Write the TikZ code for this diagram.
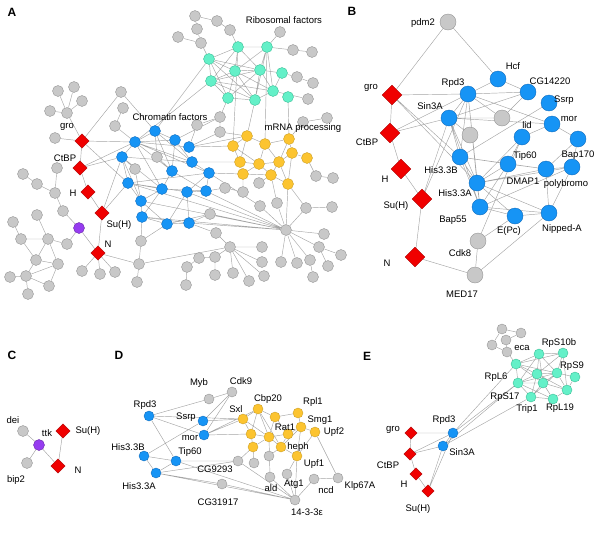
\documentclass[tikz,border=0pt]{standalone}
\usepackage{fontspec}
\setmainfont{Liberation Sans}
\usetikzlibrary{shapes.geometric,backgrounds}
\definecolor{gfill}{RGB}{200,200,200}
\definecolor{gline}{RGB}{150,150,150}
\definecolor{bfill}{RGB}{22,148,245}
\definecolor{bline}{RGB}{20,110,190}
\definecolor{yfill}{RGB}{252,196,48}
\definecolor{yline}{RGB}{205,160,40}
\definecolor{tfill}{RGB}{100,240,200}
\definecolor{tline}{RGB}{60,190,150}
\definecolor{rfill}{RGB}{240,0,0}
\definecolor{rline}{RGB}{170,0,0}
\definecolor{pfill}{RGB}{150,60,240}
\definecolor{lnkc}{RGB}{165,165,165}

\begin{document}
\begin{tikzpicture}[x=1pt,y=-1pt,
  nd/.style={circle,inner sep=0pt,minimum size=11pt,line width=0.4pt},
  gry/.style={nd,draw=gline,fill=gfill},
  blu/.style={nd,draw=bline,fill=bfill},
  ylw/.style={nd,draw=yline,fill=yfill},
  tea/.style={nd,draw=tline,fill=tfill},
  prp/.style={nd,draw=pfill!70!black,fill=pfill},
  dia/.style={diamond,inner sep=0pt,minimum size=14.5pt,draw=rline,fill=rfill,line width=0.4pt},
  lnk/.style={draw=lnkc,line width=0.45pt},
  lbl/.style={inner sep=0pt,font=\fontsize{9.5}{11}\selectfont},
  pnl/.style={inner sep=0pt,font=\fontsize{12}{14}\selectfont\bfseries}
]
\useasboundingbox (0,0) rectangle (600,536);

% panel letters
\node[pnl] (pA) at (12,12) {A};
\node[pnl] (pB) at (352,11) {B};
\node[pnl] (pC) at (12,355) {C};
\node[pnl] (pD) at (119,355) {D};
\node[pnl] (pE) at (367,356) {E};

% ---------------- A ----------------
\node[gry] (ag1) at (58,91) {};
\node[gry] (ag2) at (74,87) {};
\node[gry] (ag3) at (82,101) {};
\node[gry] (ag4) at (50,111) {};
\node[gry] (ag5) at (67,113) {};
\node[gry] (ag6) at (55,138) {};
\node[gry] (ag7) at (121,92) {};
\node[gry] (ag8) at (123,108) {};
\node[gry] (ag9) at (115,126) {};
\node[dia] (agro) at (82,141) {};
\node[dia] (actbp) at (80,168) {};
\node[dia] (ah) at (88,192) {};
\node[dia] (asuh) at (102,213) {};
\node[dia] (an) at (98,253) {};
\node[prp] (attk) at (79,228) {};
\node[gry] (ag10) at (57,168) {};
\node[gry] (ag11) at (23,174) {};
\node[gry] (ag12) at (37,184) {};
\node[gry] (ag13) at (55,193) {};
\node[gry] (ag14) at (63,211) {};
\node[gry] (ag15) at (37,215) {};
\node[gry] (ag16) at (13,222) {};
\node[gry] (ag17) at (21,239) {};
\node[gry] (ag18) at (48,239) {};
\node[gry] (ag19) at (67,244) {};
\node[gry] (ag20) at (36,260) {};
\node[gry] (ag21) at (58,264) {};
\node[gry] (ag22) at (10,277) {};
\node[gry] (ag23) at (26,276) {};
\node[gry] (ag24) at (49,286) {};
\node[gry] (ag25) at (28,294) {};
\node[gry] (ag26) at (82,271) {};
\node[gry] (ag27) at (100,274) {};
\node[gry] (ag28) at (115,272) {};
\node[gry] (ag29) at (141,241) {};
\node[gry] (ag30) at (139,264) {};
\node[gry] (ag31) at (137,282) {};
% chromatin
\node[blu] (ab1) at (155,131) {};
\node[blu] (ab2) at (135,142) {};
\node[blu] (ab3) at (175,140) {};
\node[blu] (ab4) at (189,147) {};
\node[blu] (ab5) at (122,157) {};
\node[blu] (ab6) at (172,171) {};
\node[blu] (ab7) at (128,183) {};
\node[blu] (ab8) at (162,189) {};
\node[blu] (ab9) at (141,201) {};
\node[blu] (ab10) at (142,217) {};
\node[blu] (ab11) at (167,224) {};
\node[blu] (ab12) at (192,162) {};
\node[blu] (ab13) at (209,173) {};
\node[blu] (ab14) at (187,192) {};
\node[blu] (ab15) at (206,191) {};
\node[blu] (ab16) at (189,223) {};
\node[gry] (ag32) at (135,169) {};
\node[gry] (ag33) at (157,157) {};
\node[gry] (ag34) at (225,188) {};
\node[gry] (ag35) at (243,192) {};
\node[gry] (ag36) at (259,183) {};
\node[gry] (ag37) at (210,214) {};
\node[gry] (ag38) at (216,233) {};
\node[gry] (ag39) at (220,117) {};
\node[gry] (ag40) at (197,125) {};
\node[gry] (ag41) at (220,132) {};
% lower right
\node[gry] (ag42) at (316,176) {};
\node[gry] (ag43) at (333,178) {};
\node[gry] (ag44) at (260,206) {};
\node[gry] (ag45) at (277,203) {};
\node[gry] (ag46) at (306,208) {};
\node[gry] (ag47) at (332,207) {};
\node[gry] (ah1) at (286,230) {};
\node[gry] (ag48) at (324,234) {};
\node[gry] (ag49) at (319,247) {};
\node[gry] (ag50) at (341,255) {};
\node[gry] (ag51) at (328,266) {};
\node[gry] (ag52) at (281,262) {};
\node[gry] (ag53) at (297,263) {};
\node[gry] (ag54) at (310,260) {};
\node[gry] (ag55) at (313,277) {};
\node[gry] (ah2) at (230,247) {};
\node[gry] (ag56) at (262,247) {};
\node[gry] (ag57) at (262,262) {};
\node[gry] (ag58) at (264,276) {};
\node[gry] (ag59) at (249,281) {};
\node[gry] (ag60) at (233,273) {};
\node[gry] (ag61) at (215,257) {};
\node[gry] (ag62) at (215,275) {};
\node[gry] (ag63) at (199,258) {};
\node[gry] (ag64) at (187,267) {};
\node[gry] (ag65) at (186,285) {};
% top
\node[gry] (ag66) at (195,16) {};
\node[gry] (ag67) at (217,21) {};
\node[gry] (ag68) at (197,29) {};
\node[gry] (ag69) at (230,30) {};
\node[gry] (ag70) at (201,43) {};
\node[gry] (ag71) at (178,37) {};
\node[gry] (ag72) at (280,32) {};
\node[gry] (ag73) at (293,50) {};
\node[gry] (ag74) at (312,52) {};
\node[gry] (ag75) at (297,77) {};
\node[gry] (ag76) at (313,83) {};
\node[gry] (ag77) at (308,99) {};
\node[gry] (ag78) at (303,122) {};
\node[gry] (ag79) at (327,118) {};
% ribosomal
\node[tea] (at1) at (238,47) {};
\node[tea] (at2) at (267,47) {};
\node[tea] (at3) at (209,59) {};
\node[tea] (at4) at (235,71) {};
\node[tea] (at5) at (260,70) {};
\node[tea] (at6) at (282,73) {};
\node[tea] (at7) at (211,81) {};
\node[tea] (at8) at (273,91) {};
\node[tea] (at9) at (228,98) {};
\node[tea] (at10) at (255,100) {};
\node[tea] (at11) at (288,97) {};
% mRNA processing
\node[ylw] (ay1) at (247,136) {};
\node[ylw] (ay2) at (233,146) {};
\node[ylw] (ay3) at (265,144) {};
\node[ylw] (ay4) at (289,139) {};
\node[ylw] (ay5) at (240,162) {};
\node[ylw] (ay6) at (259,164) {};
\node[ylw] (ay7) at (279,162) {};
\node[ylw] (ay8) at (292,153) {};
\node[ylw] (ay9) at (307,158) {};
\node[ylw] (ay10) at (243,174) {};
\node[ylw] (ay11) at (271,175) {};
\node[ylw] (ay12) at (288,184) {};

\node[lbl] (lrib) at (284,20) {Ribosomal factors};
\node[lbl] (lchr) at (170,117) {Chromatin factors};
\node[lbl] (lmrna) at (303,128) {mRNA processing};
\node[lbl] (lagro) at (67,127) {gro};
\node[lbl] (lactbp) at (65,158) {CtBP};
\node[lbl] (lah) at (73,193) {H};
\node[lbl] (lasuh) at (119,225) {Su(H)};
\node[lbl] (lan) at (108,244) {N};

\begin{pgfonlayer}{background}
\draw[lnk] (ag5)--(ag1) (ag5)--(ag2) (ag5)--(ag3) (ag5)--(ag4) (ag5)--(agro)
  (ag6)--(agro) (ag7)--(agro) (ag7)--(ab1) (ag8)--(ag9) (ag9)--(ab2)
  (agro)--(ab2) (agro)--(actbp) (agro)--(ab7) (actbp)--(ab5) (actbp)--(ah)
  (actbp)--(ab2) (ah)--(asuh) (asuh)--(an) (asuh)--(ab5) (asuh)--(ab7);
\draw[lnk] (ag11)--(ag12) (ag12)--(ag13) (ag10)--(ag13) (ag13)--(ag14)
  (ag14)--(attk) (attk)--(ag19) (attk)--(an) (ag15)--(ag18) (ag16)--(ag17)
  (ag17)--(ag20) (ag17)--(ag18) (ag18)--(ag19) (ag18)--(ag20) (ag18)--(ag21)
  (ag20)--(ag21) (ag20)--(ag23) (ag21)--(ag23) (ag22)--(ag23) (ag23)--(ag25)
  (ag23)--(ag24) (ag21)--(ag24);
\draw[lnk] (an)--(ag26) (an)--(ag27) (an)--(ag28) (an)--(ag30) (ag29)--(ag30)
  (ag30)--(ag31) (ag29)--(ab10) (ag29)--(ab11) (ag30)--(ah2);
\draw[lnk] (ab1)--(ab2) (ab1)--(ab3) (ab2)--(ab5) (ab2)--(ab3) (ab2)--(ab4)
  (ab2)--(ab6) (ab2)--(ab8) (ab2)--(ab12) (ab2)--(ab13) (ab1)--(ab12)
  (ab1)--(ab6) (ab3)--(ab12) (ab3)--(ab6) (ab5)--(ab7) (ab5)--(ab8)
  (ab5)--(ag32) (ab5)--(ab9) (ab5)--(ab12) (ab6)--(ab8) (ab6)--(ab15)
  (ab7)--(ab8) (ab7)--(ab9) (ab7)--(ab13) (ab7)--(ab14) (ab8)--(ab9)
  (ab8)--(ab15) (ab8)--(ab10) (ab9)--(ab10) (ab9)--(ab11) (ab10)--(ab11)
  (ab10)--(ab16) (ab11)--(ab16) (ab11)--(ab14) (ab12)--(ab13) (ab13)--(ab15)
  (ab14)--(ab15) (ab14)--(ab16) (ab13)--(ab14) (ag33)--(ab1) (ag33)--(ab6)
  (ab4)--(ay2) (ab4)--(ay1) (ab12)--(ay5) (ab13)--(ay10) (ab4)--(ag40)
  (ab3)--(ag39) (ab4)--(ag41) (ag32)--(ab9);
\draw[lnk] (ab14)--(ah1) (ab15)--(ah1) (ab16)--(ah1) (ab10)--(ah1) (ab9)--(ah1)
  (ab13)--(ag44) (ab15)--(ag34) (ag34)--(ag35) (ab16)--(ag38) (ag38)--(ah2)
  (ab11)--(ag37) (ag37)--(ah1) (ab16)--(ag37) (ab7)--(ah1);
\draw[lnk] (ay1)--(ay2) (ay1)--(ay3) (ay1)--(ay5) (ay2)--(ay5) (ay2)--(ay6)
  (ay3)--(ay6) (ay3)--(ay7) (ay3)--(ay4) (ay4)--(ay7) (ay4)--(ay8)
  (ay5)--(ay6) (ay6)--(ay7) (ay7)--(ay8) (ay8)--(ay9) (ay5)--(ay10)
  (ay6)--(ay10) (ay6)--(ay11) (ay7)--(ay11) (ay10)--(ay11) (ay11)--(ay12)
  (ay7)--(ay12) (ay8)--(ay12) (ay9)--(ag42) (ag42)--(ag43) (ay10)--(ag35)
  (ay11)--(ag36) (ay12)--(ah1) (ay11)--(ag45) (ay12)--(ag46);
\draw[lnk] (ag44)--(ah1) (ag45)--(ah1) (ag46)--(ah1) (ag46)--(ag47)
  (ah1)--(ag48) (ah1)--(ag49) (ag49)--(ag50) (ag49)--(ag51) (ah1)--(ag52)
  (ah1)--(ag53) (ah1)--(ag54) (ag54)--(ag55) (ah2)--(ag56) (ah2)--(ag57)
  (ah2)--(ag58) (ah2)--(ag59) (ah2)--(ag60) (ah2)--(ag61) (ag61)--(ag62)
  (ag61)--(ag63) (ag63)--(ag64) (ag64)--(ag65);
\draw[lnk] (ag66)--(ag67) (ag66)--(ag68) (ag68)--(ag70) (ag71)--(ag70)
  (ag67)--(ag69) (ag69)--(at1) (ag70)--(at3) (at3)--(ab1) (at7)--(ab2)
  (at2)--(ag72) (at2)--(ag73) (ag73)--(ag74) (at6)--(ag75) (ag75)--(ag76)
  (at8)--(ag77) (at2)--(ay3) (at11)--(ay4) (at10)--(ay1) (at9)--(ag39)
  (ag39)--(ag40) (ag39)--(ag41) (ag41)--(ay1) (ag78)--(ag79) (ay4)--(ag78)
  (at1)--(ay2);
\draw[lnk] (at1)--(at2) (at1)--(at3) (at1)--(at4) (at1)--(at5) (at2)--(at5)
  (at2)--(at4) (at3)--(at4) (at3)--(at7) (at3)--(at5) (at3)--(at9)
  (at4)--(at5) (at4)--(at7) (at4)--(at9) (at4)--(at10) (at4)--(at8)
  (at5)--(at7) (at5)--(at8) (at5)--(at10) (at5)--(at9) (at5)--(at6)
  (at7)--(at9) (at7)--(at10) (at7)--(at8) (at8)--(at10) (at9)--(at10)
  (at3)--(at10) (at1)--(at7) (at2)--(at8) (at6)--(at8) (at2)--(at10);
\end{pgfonlayer}

% ---------------- B ----------------
\begin{scope}[nd/.append style={minimum size=16pt},dia/.append style={minimum size=20pt}]
\node[gry] (bpdm2) at (448,22) {};
\node[dia] (bgro) at (392,95) {};
\node[dia] (bctbp) at (390,133) {};
\node[dia] (bh) at (401,169) {};
\node[dia] (bsuh) at (422,199) {};
\node[dia] (bn) at (415,257) {};
\node[blu] (bhcf) at (498,79) {};
\node[blu] (brpd3) at (468,94) {};
\node[blu] (bcg) at (528,92) {};
\node[blu] (bssrp) at (549,103) {};
\node[blu] (bsin) at (449,118) {};
\node[gry] (bx1) at (502,118) {};
\node[blu] (bmor) at (552,124) {};
\node[blu] (blid) at (522,137) {};
\node[gry] (bx2) at (470,135) {};
\node[blu] (bbap170) at (578,139) {};
\node[blu] (bhis3b) at (460,157) {};
\node[blu] (btip60) at (508,164) {};
\node[blu] (bdmap) at (546,169) {};
\node[blu] (bpoly) at (572,167) {};
\node[blu] (bhis3a) at (477,183) {};
\node[blu] (bbap55) at (480,207) {};
\node[blu] (bepc) at (515,216) {};
\node[blu] (bnip) at (549,213) {};
\node[gry] (bcdk8) at (478,241) {};
\node[gry] (bmed) at (475,275) {};
\end{scope}

\node[lbl] (lbpdm2) at (423,23) {pdm2};
\node[lbl] (lbgro) at (371,88) {gro};
\node[lbl] (lbctbp) at (367,142) {CtBP};
\node[lbl] (lbh) at (385,179) {H};
\node[lbl] (lbsuh) at (396,206) {Su(H)};
\node[lbl] (lbn) at (387,263) {N};
\node[lbl] (lbrpd3) at (453,83) {Rpd3};
\node[lbl] (lbhcf) at (513,66) {Hcf};
\node[lbl] (lbcg) at (550,81) {CG14220};
\node[lbl] (lbssrp) at (564,100) {Ssrp};
\node[lbl] (lbsin) at (430,106) {Sin3A};
\node[lbl] (lbmor) at (569,119) {mor};
\node[lbl] (lblid) at (527,125) {lid};
\node[lbl] (lbtip60) at (525,156) {Tip60};
\node[lbl] (lbbap170) at (578,155) {Bap170};
\node[lbl] (lbhis3b) at (441,170) {His3.3B};
\node[lbl] (lbdmap) at (523,181) {DMAP1};
\node[lbl] (lbpoly) at (566,184) {polybromo};
\node[lbl] (lbhis3a) at (455,193) {His3.3A};
\node[lbl] (lbbap55) at (453,220) {Bap55};
\node[lbl] (lbepc) at (509,231) {E(Pc)};
\node[lbl] (lbnip) at (562,229) {Nipped-A};
\node[lbl] (lbcdk8) at (460,253) {Cdk8};
\node[lbl] (lbmed) at (462,294) {MED17};

\begin{pgfonlayer}{background}
\draw[lnk] (bpdm2)--(bgro) (bpdm2)--(bhcf) (bgro)--(bctbp) (bgro)--(brpd3)
  (bgro)--(bhis3b) (bgro)--(bhis3a) (bctbp)--(bsin) (bctbp)--(brpd3)
  (bctbp)--(bh) (bh)--(bsuh) (bsuh)--(bn) (bsuh)--(bsin) (bsuh)--(brpd3)
  (bn)--(bmed) (bcdk8)--(bmed) (bcdk8)--(bepc) (bcdk8)--(blid) (bmed)--(bnip);
\draw[lnk] (brpd3)--(bhcf) (brpd3)--(bcg) (brpd3)--(bsin) (brpd3)--(bx1)
  (brpd3)--(bmor) (brpd3)--(bhis3b) (brpd3)--(bhis3a) (brpd3)--(bbap55)
  (bhcf)--(bcg) (bsin)--(bcg) (bsin)--(bx1) (bsin)--(bmor) (bsin)--(bhis3b)
  (bsin)--(bhis3a) (bsin)--(bbap55) (bsin)--(bx2) (bx1)--(bcg)
  (bssrp)--(bhis3b) (bmor)--(blid) (bmor)--(bbap170) (blid)--(bhis3a)
  (blid)--(btip60) (btip60)--(bhis3b) (btip60)--(bhis3a) (btip60)--(bdmap)
  (btip60)--(bbap55) (bdmap)--(bpoly) (bdmap)--(bbap170) (bdmap)--(bhis3a)
  (bdmap)--(bnip) (bpoly)--(bnip) (bpoly)--(bbap55) (bhis3a)--(bbap55)
  (bhis3a)--(bnip) (bbap55)--(bepc) (bbap55)--(bnip) (bepc)--(bnip)
  (bhis3b)--(bhis3a) (bhis3b)--(bbap55) (bhis3b)--(bdmap) (bhis3a)--(bepc)
  (bpoly)--(bhis3a) (bpoly)--(bbap170);
\end{pgfonlayer}

% ---------------- C ----------------
\node[gry] (cdei) at (23,431) {};
\node[prp] (cttk) at (39,445) {};
\node[dia] (csuh) at (63,431) {};
\node[gry] (cbip2) at (27,463) {};
\node[dia] (cn) at (58,466) {};
\node[lbl] (lcdei) at (13,420) {dei};
\node[lbl] (lcttk) at (47,433) {ttk};
\node[lbl] (lcsuh) at (88,431) {Su(H)};
\node[lbl] (lcbip2) at (16,480) {bip2};
\node[lbl] (lcn) at (78,470) {N};
\begin{pgfonlayer}{background}
\draw[lnk] (cdei)--(cttk) (cttk)--(cbip2) (cttk)--(cn) (csuh)--(cn);
\end{pgfonlayer}

% ---------------- D ----------------
\begin{scope}[nd/.append style={minimum size=10pt}]
\node[gry] (dmyb) at (209,399) {};
\node[gry] (dcdk9) at (232,392) {};
\node[blu] (drpd3) at (149,416) {};
\node[blu] (dssrp) at (203,421) {};
\node[blu] (dmor) at (204,435) {};
\node[blu] (dhis3b) at (144,456) {};
\node[blu] (dtip60) at (176,461) {};
\node[blu] (dhis3a) at (156,473) {};
\node[ylw] (dsxl) at (243,419) {};
\node[ylw] (dcbp20) at (258,409) {};
\node[ylw] (dy1) at (275,417) {};
\node[ylw] (dy2) at (251,434) {};
\node[ylw] (dy3) at (269,437) {};
\node[ylw] (dy4) at (253,447) {};
\node[ylw] (drpl1) at (298,413) {};
\node[ylw] (drat1) at (288,434) {};
\node[ylw] (dsmg1) at (301,427) {};
\node[ylw] (dupf2) at (315,432) {};
\node[ylw] (dheph) at (281,447) {};
\node[ylw] (dupf1) at (297,456) {};
\node[gry] (dcg9293) at (238,461) {};
\node[gry] (dg1) at (254,463) {};
\node[gry] (dg2) at (269,456) {};
\node[gry] (dald) at (270,477) {};
\node[gry] (datg1) at (287,474) {};
\node[gry] (dncd) at (314,479) {};
\node[gry] (dklp) at (338,478) {};
\node[gry] (dcg31917) at (222,484) {};
\node[gry] (d1433) at (295,500) {};
\end{scope}

\node[lbl] (ldmyb) at (199,383) {Myb};
\node[lbl] (ldcdk9) at (241,381) {Cdk9};
\node[lbl] (ldrpd3) at (145,405) {Rpd3};
\node[lbl] (ldssrp) at (186,417) {Ssrp};
\node[lbl] (ldsxl) at (236,409) {Sxl};
\node[lbl] (ldcbp20) at (268,399) {Cbp20};
\node[lbl] (ldrpl1) at (313,402) {Rpl1};
\node[lbl] (ldsmg1) at (320,420) {Smg1};
\node[lbl] (ldupf2) at (334,432) {Upf2};
\node[lbl] (ldrat1) at (285,427) {Rat1};
\node[lbl] (ldheph) at (298,447) {heph};
\node[lbl] (ldmor) at (190,438) {mor};
\node[lbl] (ldhis3b) at (128,447) {His3.3B};
\node[lbl] (ldtip60) at (190,452) {Tip60};
\node[lbl] (ldcg9293) at (215,469) {CG9293};
\node[lbl] (ldhis3a) at (139,486) {His3.3A};
\node[lbl] (ldald) at (271,488) {ald};
\node[lbl] (ldatg1) at (294,484) {Atg1};
\node[lbl] (ldupf1) at (314,464) {Upf1};
\node[lbl] (ldncd) at (326,490) {ncd};
\node[lbl] (ldklp) at (360,486) {Klp67A};
\node[lbl] (ldcg31917) at (218,502) {CG31917};
\node[lbl] (ld1433) at (307,512) {14-3-3ε};

\begin{pgfonlayer}{background}
\draw[lnk] (drpd3)--(dmyb) (drpd3)--(dmor) (drpd3)--(dtip60) (drpd3)--(dsxl)
  (dmyb)--(dcdk9) (dcdk9)--(dssrp) (dcdk9)--(dmor) (dssrp)--(dsxl)
  (dmor)--(dsxl) (dmor)--(dy2) (dmor)--(dcbp20) (dhis3b)--(dssrp)
  (dhis3b)--(dtip60) (dhis3b)--(dhis3a) (dtip60)--(dhis3a) (dtip60)--(dcg9293)
  (dhis3a)--(dcg9293) (dhis3a)--(dcg31917) (dhis3a)--(d1433) (dtip60)--(d1433)
  (dcg31917)--(d1433) (dcg9293)--(dy4);
\draw[lnk] (dsxl)--(dcbp20) (dsxl)--(dy2) (dsxl)--(dy3) (dcbp20)--(dy1)
  (dcbp20)--(dy3) (dcbp20)--(dy2) (dcbp20)--(dheph) (dy1)--(drpl1)
  (dy1)--(dy3) (dy1)--(drat1) (drpl1)--(dsmg1) (dsmg1)--(dupf2)
  (dsmg1)--(drat1) (drat1)--(dy3) (drat1)--(dheph) (dy2)--(dy3) (dy2)--(dy4)
  (dy3)--(dheph) (dy3)--(dy4) (dheph)--(dupf1) (dsmg1)--(dheph)
  (dupf2)--(dupf1) (dsmg1)--(dupf1) (dy4)--(dg1) (dheph)--(dg2) (dy3)--(dald)
  (dupf1)--(datg1) (dupf2)--(dklp) (dncd)--(dklp) (d1433)--(dald)
  (d1433)--(datg1) (d1433)--(dncd) (d1433)--(dupf1) (dcg9293)--(d1433);
\end{pgfonlayer}

% ---------------- E ----------------
\begin{scope}[nd/.append style={minimum size=10pt},dia/.append style={minimum size=12.5pt}]
\node[dia] (egro) at (411,433) {};
\node[dia] (ectbp) at (410,454) {};
\node[dia] (eh) at (416,474) {};
\node[dia] (esuh) at (428,491) {};
\node[blu] (erpd3) at (453,433) {};
\node[blu] (esin) at (443,446) {};
\node[gry] (ex1) at (502,329) {};
\node[gry] (ex2) at (521,333) {};
\node[gry] (ex3) at (492,345) {};
\node[gry] (ex4) at (506,340) {};
\node[gry] (eeca) at (507,352) {};
\node[tea] (et1) at (539,354) {};
\node[tea] (erps10b) at (563,353) {};
\node[tea] (erpl6) at (516,364) {};
\node[tea] (et2) at (537,374) {};
\node[tea] (et3) at (557,373) {};
\node[tea] (erps9) at (575,377) {};
\node[tea] (et4) at (567,390) {};
\node[tea] (erps17) at (518,383) {};
\node[tea] (et5) at (543,383) {};
\node[tea] (etrip1) at (531,397) {};
\node[tea] (erpl19) at (553,399) {};
\end{scope}

\node[lbl] (legro) at (393,430) {gro};
\node[lbl] (lectbp) at (388,465) {CtBP};
\node[lbl] (leh) at (404,484) {H};
\node[lbl] (lesuh) at (418,509) {Su(H)};
\node[lbl] (lerpd3) at (444,420) {Rpd3};
\node[lbl] (lesin) at (462,452) {Sin3A};
\node[lbl] (leeca) at (522,348) {eca};
\node[lbl] (lerps10b) at (559,343) {RpS10b};
\node[lbl] (lerps9) at (572,366) {RpS9};
\node[lbl] (lerpl6) at (496,377) {RpL6};
\node[lbl] (lerps17) at (505,397) {RpS17};
\node[lbl] (letrip1) at (527,409) {Trip1};
\node[lbl] (lerpl19) at (560,408) {RpL19};

\begin{pgfonlayer}{background}
\draw[lnk] (egro)--(erpd3) (egro)--(ectbp) (ectbp)--(erpd3) (ectbp)--(esin)
  (ectbp)--(eh) (eh)--(esuh) (esuh)--(esin) (esuh)--(erpd3) (erpd3)--(esin)
  (erpd3)--(erpl6) (erpd3)--(erps17) (esin)--(erps17) (esin)--(etrip1);
\draw[lnk] (ex1)--(ex2) (ex1)--(ex3) (ex3)--(eeca) (ex2)--(ex4) (ex4)--(eeca)
  (eeca)--(erpl6);
\draw[lnk] (erpl6)--(et1) (erpl6)--(et2) (erpl6)--(erps17) (erpl6)--(et3)
  (erpl6)--(et5) (erpl6)--(erps10b) (et1)--(erps10b) (et1)--(et2) (et1)--(et3)
  (et1)--(et5) (et1)--(erps17) (erps10b)--(et3) (erps10b)--(et2)
  (erps10b)--(et4) (et2)--(et3) (et2)--(erps17) (et2)--(etrip1) (et2)--(erpl19)
  (et2)--(et4) (et3)--(erps9) (et3)--(et4) (et3)--(et5) (et3)--(erps17)
  (et3)--(etrip1) (erps9)--(et4) (et4)--(erpl19) (et4)--(et5) (et5)--(erps17)
  (et5)--(etrip1) (et5)--(erpl19) (erps17)--(etrip1) (etrip1)--(erpl19)
  (erps17)--(erpl19);
\end{pgfonlayer}
\end{tikzpicture}
\end{document}
